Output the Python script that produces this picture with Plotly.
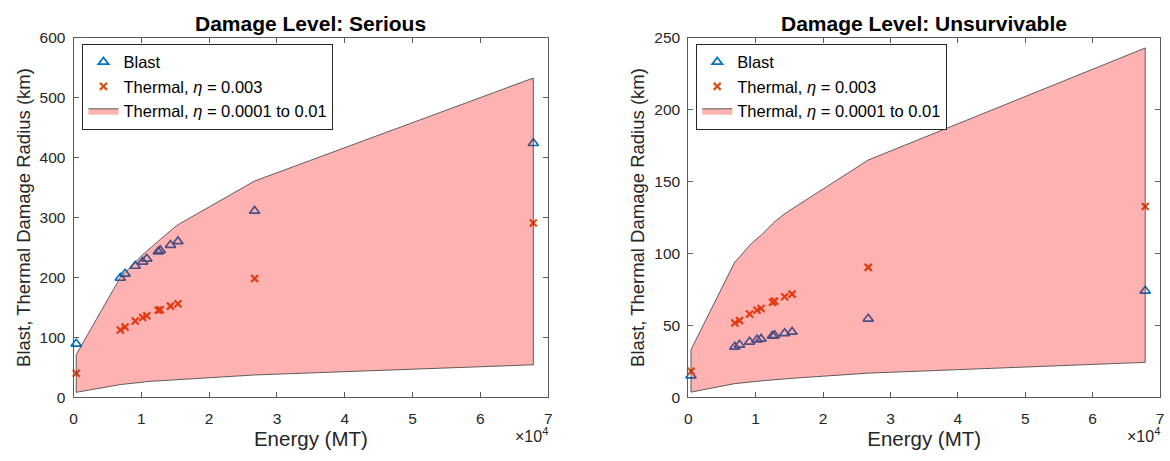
import plotly.graph_objects as go

# ---------------- data ----------------
energy_mt = [400, 6900, 7600, 9100, 10200, 10800, 12500, 12800, 14300, 15400, 26700, 67800]

serious_blast = [89, 199, 206, 219, 226, 231, 243, 245, 254, 260, 311, 424]
serious_thermal = [40, 112, 117, 127, 133, 136, 145, 146, 152, 156, 198, 291]
serious_upper = [71, 200, 208, 226, 238, 244, 261, 264, 278, 288, 361, 533]
serious_lower = [8, 21, 22, 24, 25, 26, 27, 28, 29, 30, 37, 54]

unsurv_blast = [15, 35, 36.4, 38.5, 40, 40.5, 42.7, 43, 44.4, 45.4, 54.5, 74]
unsurv_thermal = [18, 51.6, 53.4, 57.9, 60.5, 61.7, 66.1, 66.8, 69.9, 71.7, 90.3, 132.7]
unsurv_upper = [33, 94, 97.5, 105.6, 110.4, 112.6, 120.6, 122, 127.6, 131, 165, 243]
unsurv_lower = [3.5, 9.4, 9.8, 10.6, 11, 11.3, 12, 12.2, 12.8, 13.1, 16.7, 24.2]

x_tickvals = [0, 10000, 20000, 30000, 40000, 50000, 60000, 70000]
x_ticktext = ["0", "1", "2", "3", "4", "5", "6", "7"]
serious_yticks = [0, 100, 200, 300, 400, 500, 600]
unsurv_yticks = [0, 50, 100, 150, 200, 250]

titles = ["Damage Level: Serious", "Damage Level: Unsurvivable"]
legend_names = ["Blast", "Thermal, <i>η</i> = 0.003", "Thermal, <i>η</i> = 0.0001 to 0.01"]

# ---------------- styling ----------------
FONT = "Liberation Sans, Arial, Helvetica, sans-serif"
BLUE = "#0072BD"
ORANGE = "#D95319"
W, H = 1170, 461

fig = go.Figure()

panels = [
    dict(blast=serious_blast, thermal=serious_thermal, up=serious_upper, lo=serious_lower,
         xa="x", ya="y", leg="legend"),
    dict(blast=unsurv_blast, thermal=unsurv_thermal, up=unsurv_upper, lo=unsurv_lower,
         xa="x2", ya="y2", leg="legend2"),
]

for p in panels:
    fig.add_trace(go.Scatter(
        x=energy_mt, y=p["blast"], mode="markers", name=legend_names[0],
        marker=dict(symbol="triangle-up-open", size=9, color=BLUE, line=dict(width=1.7, color=BLUE)),
        xaxis=p["xa"], yaxis=p["ya"], legend=p["leg"], cliponaxis=False))
    fig.add_trace(go.Scatter(
        x=energy_mt, y=p["thermal"], mode="markers", name=legend_names[1],
        marker=dict(symbol="x-thin-open", size=7, color=ORANGE, line=dict(width=2.2, color=ORANGE)),
        xaxis=p["xa"], yaxis=p["ya"], legend=p["leg"], cliponaxis=False))
    poly_x = energy_mt + energy_mt[::-1] + [energy_mt[0]]
    poly_y = p["up"] + p["lo"][::-1] + [p["up"][0]]
    fig.add_trace(go.Scatter(
        x=poly_x, y=poly_y, mode="lines", fill="toself", name=legend_names[2],
        fillcolor="rgba(255,0,0,0.3)", line=dict(color="#3a3a3a", width=0.8),
        xaxis=p["xa"], yaxis=p["ya"], legend=p["leg"]))

# plot areas in pixels
left_px = (70, 548)
right_px = (689, 1164)
top_px, bot_px = 30, 403

def xd(a, b):
    return [a / W, b / W]

ydom = [1 - bot_px / H, 1 - top_px / H]

axis_common = dict(
    showline=True, linecolor="#5a5a5a", linewidth=1, mirror="ticks",
    ticks="inside", ticklen=5, tickwidth=1, tickcolor="#5a5a5a",
    showgrid=False, zeroline=False,
    tickfont=dict(family=FONT, size=15.5, color="#262626"),
)
xt = dict(text="Energy (MT)", font=dict(size=20.5, family=FONT, color="#262626"), standoff=5)
yt = dict(text="Blast, Thermal Damage Radius (km)", font=dict(size=18.5, family=FONT, color="#262626"), standoff=4)
leg_common = dict(xanchor="left", yanchor="top", bgcolor="white", bordercolor="#262626", borderwidth=1,
                  font=dict(family=FONT, size=16.5, color="black"), tracegroupgap=0, itemwidth=30)

fig.update_layout(
    width=W, height=H,
    margin=dict(l=0, r=0, t=0, b=0),
    paper_bgcolor="white", plot_bgcolor="white",
    font=dict(family=FONT, color="#262626"),
    xaxis=dict(domain=xd(*left_px), range=[0, 70000], tickvals=x_tickvals, ticktext=x_ticktext,
               anchor="y", title=xt, ticklabelstandoff=7, **axis_common),
    yaxis=dict(domain=ydom, range=[0, 600], tickvals=serious_yticks, anchor="x",
               title=yt, ticklabelstandoff=4, **axis_common),
    xaxis2=dict(domain=xd(*right_px), range=[0, 70000], tickvals=x_tickvals, ticktext=x_ticktext,
                anchor="y2", title=xt, ticklabelstandoff=7, **axis_common),
    yaxis2=dict(domain=ydom, range=[0, 250], tickvals=unsurv_yticks, anchor="x2",
                title=yt, ticklabelstandoff=4, **axis_common),
    legend=dict(x=79 / W, y=1 - 36 / H, **leg_common),
    legend2=dict(x=697 / W, y=1 - 36 / H, **leg_common),
    showlegend=True,
)

annotations = []
for (a, b), t in zip([left_px, right_px], titles):
    annotations.append(dict(text="<b>" + t + "</b>", x=(a + b) / 2 / W, y=1 - 15 / H,
                            xref="paper", yref="paper", xanchor="center", yanchor="middle",
                            showarrow=False, font=dict(family=FONT, size=21, color="black")))
    annotations.append(dict(text="×10<sup>4</sup>", x=(b + 2) / W, y=1 - 442 / H,
                            xref="paper", yref="paper", xanchor="right", yanchor="middle",
                            showarrow=False, font=dict(family=FONT, size=16, color="#262626")))
fig.update_layout(annotations=annotations)

fig.write_html("out.html")
